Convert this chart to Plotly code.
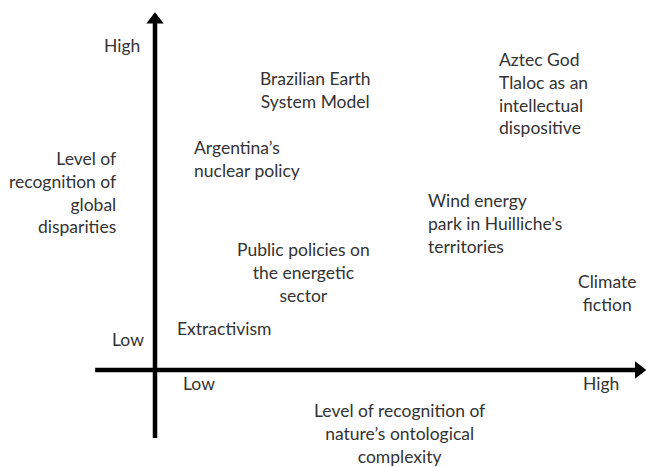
import plotly.graph_objects as go

# Conceptual positions (0 = low, 10 = high) on the two dimensions
labels = [
    "Brazilian Earth<br>System Model",
    "Aztec God<br>Tlaloc as an<br>intellectual<br>dispositive",
    "Argentina’s<br>nuclear policy",
    "Wind energy<br>park in Huilliche’s<br>territories",
    "Public policies on<br>the energetic<br>sector",
    "Climate<br>fiction",
    "Extractivism",
]
nature_complexity = [3.56, 7.6, 0.82, 6.03, 3.3, 10.04, 1.53]
global_disparities = [8.62, 8.5, 6.5, 4.52, 3.0, 2.38, 1.29]
anchors = ["center", "left", "left", "left", "center", "center", "center"]

x_title = "Level of recognition of<br>nature’s ontological<br>complexity"
y_title = "Level of<br>recognition of<br>global<br>disparities"
tick_low, tick_high = "Low", "High"

TXT = "#333333"
FONT = "Lato"
FS = 17.5

fig = go.Figure()

# axes lines
fig.add_trace(go.Scatter(x=[-1.33, 10.7], y=[0, 0], mode="lines",
                         line=dict(color="black", width=4.5), hoverinfo="skip", showlegend=False))
fig.add_trace(go.Scatter(x=[0, 0], y=[-2.09, 10.7], mode="lines",
                         line=dict(color="black", width=4.5), hoverinfo="skip", showlegend=False))
# arrow heads
fig.add_trace(go.Scatter(x=[10.75], y=[0], mode="markers",
                         marker=dict(symbol="triangle-right", size=15, color="black"),
                         hoverinfo="skip", showlegend=False))
fig.add_trace(go.Scatter(x=[0], y=[10.78], mode="markers",
                         marker=dict(symbol="triangle-up", size=15, color="black"),
                         hoverinfo="skip", showlegend=False))

for t, x, y, a in zip(labels, nature_complexity, global_disparities, anchors):
    fig.add_annotation(x=x, y=y, text=t, showarrow=False, xanchor=a, yanchor="middle",
                       align=a, font=dict(family=FONT, size=FS, color=TXT))

# tick labels
fig.add_annotation(x=-0.73, y=10.0, text=tick_high, showarrow=False,
                   font=dict(family=FONT, size=FS, color=TXT))
fig.add_annotation(x=-0.6, y=0.95, text=tick_low, showarrow=False,
                   font=dict(family=FONT, size=FS, color=TXT))
fig.add_annotation(x=0.98, y=-0.4, text=tick_low, showarrow=False,
                   font=dict(family=FONT, size=FS, color=TXT))
fig.add_annotation(x=9.92, y=-0.42, text=tick_high, showarrow=False,
                   font=dict(family=FONT, size=FS, color=TXT))

# axis titles
fig.add_annotation(x=5.44, y=-1.96, text=x_title, showarrow=False, xanchor="center",
                   yanchor="middle", align="center", font=dict(family=FONT, size=FS, color=TXT))
fig.add_annotation(x=-0.82, y=5.45, text=y_title, showarrow=False, xanchor="right",
                   yanchor="middle", align="right", font=dict(family=FONT, size=FS, color=TXT))

fig.update_layout(
    width=646, height=467,
    margin=dict(l=0, r=0, t=0, b=0),
    paper_bgcolor="white", plot_bgcolor="white",
    xaxis=dict(range=[-155/45, 491/45], visible=False, fixedrange=True),
    yaxis=dict(range=[-97/32.5, 370/32.5], visible=False, fixedrange=True),
    showlegend=False,
)

fig.write_html("out.html", config={"displayModeBar": False},
               post_script="document.body.style.margin='0';")
